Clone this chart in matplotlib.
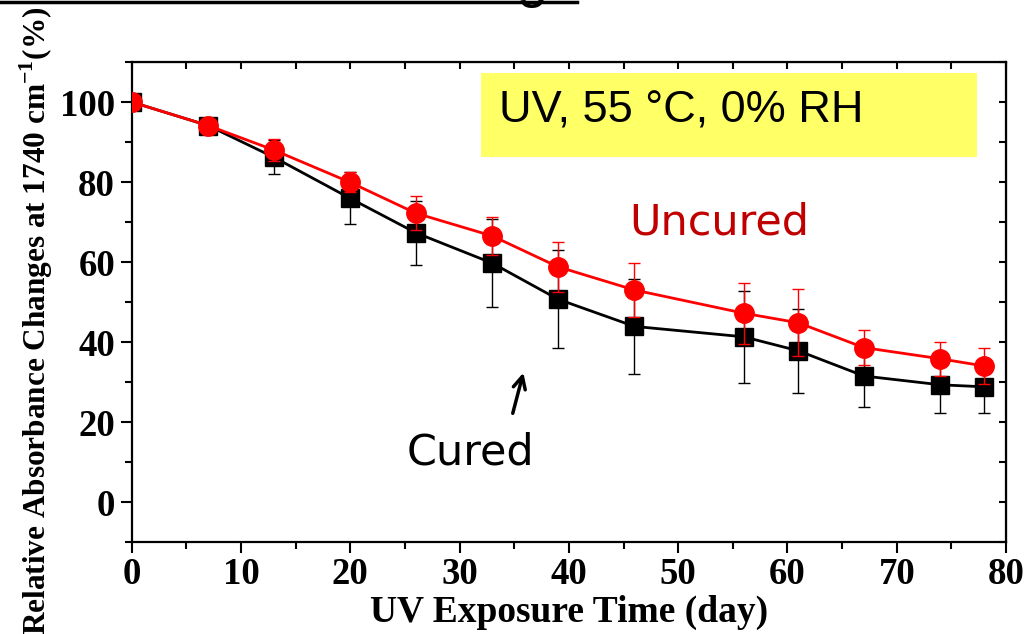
import numpy as np
import matplotlib
matplotlib.use('Agg')
import matplotlib.pyplot as plt
from matplotlib.ticker import MultipleLocator
from matplotlib.lines import Line2D
from matplotlib.patches import Rectangle


####################################################################################################
# Data #############################################################################################
####################################################################################################
days = [0, 7, 13, 20, 26, 33, 39, 46, 56, 61, 67, 74, 78]

cured = [100, 94.1, 86.2, 75.9, 67.3, 59.7, 50.7, 43.9, 41.3, 37.8, 31.5, 29.3, 28.8]
cured_err = [0.5, 1.3, 4.2, 6.5, 8.0, 11.0, 12.2, 11.8, 11.5, 10.5, 7.7, 7.0, 6.5]

uncured = [100, 94.1, 88.0, 79.9, 72.2, 66.5, 58.8, 53.0, 47.2, 44.8, 38.6, 35.8, 34.0]
uncured_err = [0.5, 1.3, 2.7, 2.5, 4.2, 4.7, 6.2, 6.7, 7.6, 8.4, 4.3, 4.2, 4.6]

x_ticks = [0, 10, 20, 30, 40, 50, 60, 70, 80]
y_ticks = [0, 20, 40, 60, 80, 100]

box_text = 'UV, 55 \u00b0C, 0% RH'
label_uncured = 'Uncured'
label_cured = 'Cured'


####################################################################################################
# Figure ###########################################################################################
####################################################################################################
plt.rcParams['mathtext.fontset'] = 'custom'
plt.rcParams['mathtext.rm'] = 'Liberation Serif:bold'
plt.rcParams['mathtext.bf'] = 'Liberation Serif:bold'

serif = 'Liberation Serif'

fig = plt.figure(figsize=(10.29, 6.34), dpi=100)
ax = fig.add_axes([0.128, 0.1451, 0.8497, 0.7571])

# cured series (black squares)
ax.errorbar(days, cured, yerr=cured_err, color='black', lw=2.0, marker='s', ms=13,
            mfc='black', mec='black', ecolor='black', elinewidth=1.0, capsize=4.3,
            capthick=1.0, zorder=3)

# uncured series (red circles)
ax.errorbar(days, uncured, yerr=uncured_err, color='#FF0000', lw=2.0, marker='o', ms=14,
            mfc='#FF0000', mec='#FF0000', ecolor='#FF0000', elinewidth=1.0, capsize=4.3,
            capthick=1.0, zorder=4)

ax.set_xlim(0, 80)
ax.set_ylim(-10, 110)

ax.set_xticks(x_ticks)
ax.set_yticks(y_ticks)
ax.xaxis.set_minor_locator(MultipleLocator(5))
ax.yaxis.set_minor_locator(MultipleLocator(10))
ax.tick_params(which='major', direction='out', length=8, width=1.5, pad=3)
ax.tick_params(which='minor', direction='out', length=5, width=1.5)
ax.tick_params(axis='y', which='major', pad=4)

for lab in ax.get_xticklabels() + ax.get_yticklabels():
    lab.set_family(serif)
    lab.set_weight('bold')
    lab.set_size(26.5)

for sp in ax.spines.values():
    sp.set_linewidth(1.6)

# inward ticks on top and right
top = ax.secondary_xaxis('top')
top.set_xticks(np.arange(0, 81, 5))
top.tick_params(direction='in', length=5, width=1.5, labeltop=False)
right = ax.secondary_yaxis('right')
right.set_yticks(np.arange(-10, 111, 10))
right.tick_params(direction='in', length=5, width=1.5, labelright=False)

ax.set_xlabel('UV Exposure Time (day)', family=serif, weight='bold', size=27, labelpad=2)
fig.text(36 / 1029, 1 - 7 / 634, r'Relative Absorbance Changes at 1740 cm$^{-1}$(%)',
         rotation=90, ha='center', va='top', family=serif, weight='bold', size=22.5)

# yellow condition box
ax.add_patch(Rectangle((31.96, 86.25), 45.34, 21.0, fc='#FFFF66', ec='none', zorder=5))
ax.text(33.6, 97.8, box_text, family='Liberation Sans', size=32.5, color='black',
        va='center', ha='left', zorder=6)

# hand annotations
ax.text(53.8, 70, label_uncured, family='DejaVu Sans', size=31, color='#C00000',
        ha='center', va='center', zorder=6)
ax.text(31.0, 12.5, label_cured, family='DejaVu Sans', size=31, color='black',
        ha='center', va='center', zorder=6)
ax.annotate('', xy=(35.9, 33), xytext=(34.8, 21.5),
            arrowprops=dict(arrowstyle='->', lw=2.5, color='black', mutation_scale=22))

# remains of the slide title cut off at the top
fig.add_artist(Line2D([0, 577 / 1029], [1 - 1.5 / 634, 1 - 1.5 / 634], color='black', lw=2.5,
                      transform=fig.transFigure))
fig.text(532 / 1029, 1 + 4 / 634, 'g', family='Liberation Sans', size=40, ha='center',
         va='baseline', color='black')

fig.savefig('out.png', dpi=100)
